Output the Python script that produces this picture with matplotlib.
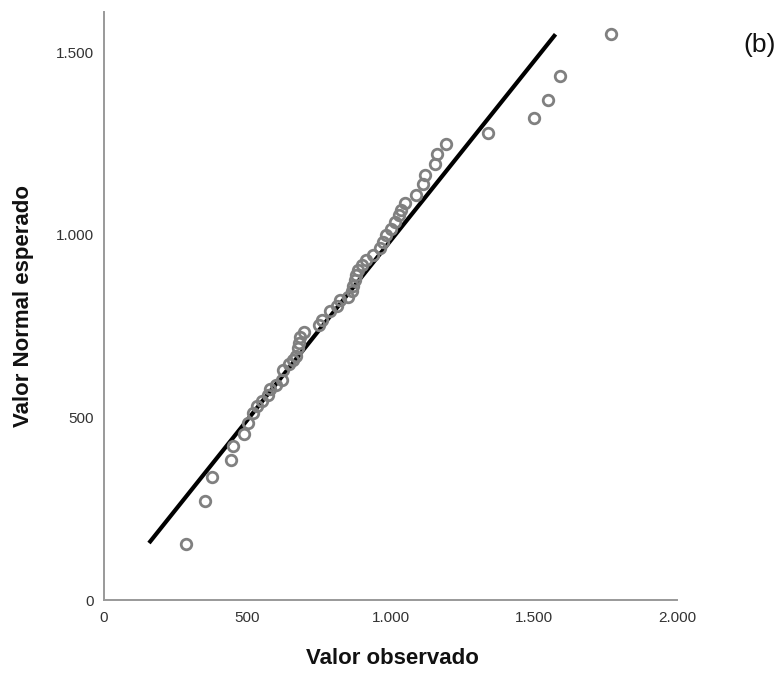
import matplotlib
matplotlib.use("Agg")
import matplotlib.pyplot as plt

plt.rcParams["font.family"] = ["Liberation Sans", "DejaVu Sans"]

# Observed values (sorted) and their expected normal quantiles
observado = [285, 351, 378, 442, 449, 490, 504, 521, 535, 550, 573, 580, 600,
             620, 626, 645, 660, 670, 678, 680, 683, 697, 750, 760, 788, 815,
             823, 850, 864, 870, 875, 880, 887, 899, 916, 940, 965, 975, 986,
             1000, 1015, 1030, 1038, 1050, 1090, 1114, 1120, 1155, 1163, 1195,
             1342, 1500, 1550, 1593, 1771]
esperado = [152, 271, 336, 383, 422, 454, 484, 511, 530, 545, 560, 578, 590,
            602, 630, 645, 657, 668, 690, 705, 720, 735, 752, 766, 790, 805,
            821, 830, 845, 860, 875, 890, 903, 917, 930, 945, 965, 980, 1000,
            1015, 1035, 1055, 1067, 1086, 1110, 1140, 1165, 1195, 1222, 1248,
            1280, 1320, 1368, 1434, 1551]

# Reference line endpoints
linea_x = [157, 1576]
linea_y = [156, 1549]

x_ticks = [0, 500, 1000, 1500, 2000]
x_ticklabels = ["0", "500", "1.000", "1.500", "2.000"]
y_ticks = [0, 500, 1000, 1500]
y_ticklabels = ["0", "500", "1.000", "1.500"]

fig = plt.figure(figsize=(7.81, 6.73), dpi=100)
ax = fig.add_axes([104 / 781, 73 / 673, 573 / 781, 588 / 673])

ax.plot(linea_x, linea_y, color="black", lw=3.0, solid_capstyle="butt", zorder=2)
ax.plot(observado, esperado, linestyle="none", marker="o", markersize=7.6,
        markerfacecolor="none", markeredgecolor="#808080", markeredgewidth=2.0,
        zorder=3)

ax.set_xlim(0, 2000)
ax.set_ylim(0, 1610)
ax.set_xticks(x_ticks)
ax.set_xticklabels(x_ticklabels)
ax.set_yticks(y_ticks)
ax.set_yticklabels(y_ticklabels)
ax.tick_params(axis="both", length=0, labelsize=11, colors="#333333")
ax.tick_params(axis="x", pad=8)
ax.tick_params(axis="y", pad=7)

for side in ("top", "right"):
    ax.spines[side].set_visible(False)
for side in ("left", "bottom"):
    ax.spines[side].set_color("#999999")
    ax.spines[side].set_linewidth(1.4)

fig.text(392 / 781, 1 - 659 / 673, "Valor observado", ha="center", va="center",
         fontsize=16, fontweight="bold", color="#111111")
fig.text(24 / 781, 1 - 306 / 673, "Valor Normal esperado", ha="center",
         va="center", rotation=90, fontsize=16, fontweight="bold",
         color="#111111")
fig.text(743 / 781, 1 - 45 / 673, "(b)", ha="left", va="center", fontsize=19,
         color="#111111")

fig.savefig("out.png", dpi=100, facecolor="white")
